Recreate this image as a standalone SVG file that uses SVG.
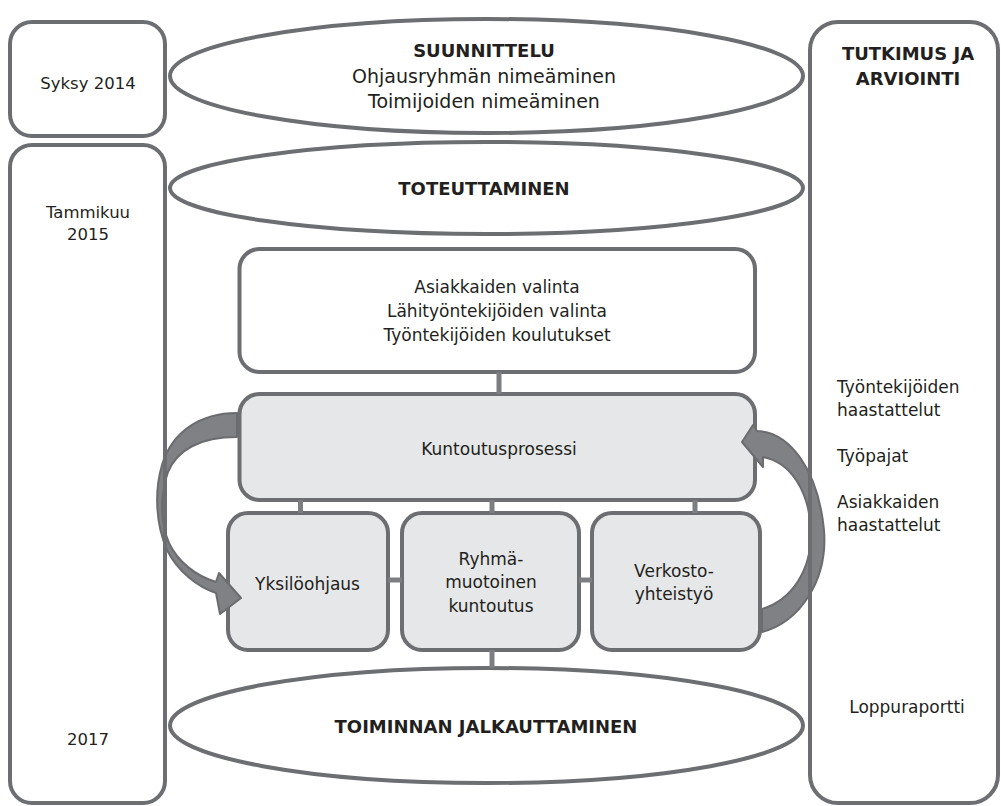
<svg xmlns="http://www.w3.org/2000/svg" width="1001" height="806" viewBox="0 0 1001 806">
<style>
.frame{fill:none;stroke:#6d6e71;stroke-width:4}
.wbox{fill:#ffffff;stroke:#6d6e71;stroke-width:4}
.gbox{fill:#e6e7e8;stroke:#6d6e71;stroke-width:4}
.conn{stroke:#7d7e81;stroke-width:5;fill:none}
.arrow{fill:#808184;stroke:#6b6c6f;stroke-width:2;stroke-linejoin:round}
text{font-family:"DejaVu Sans","Liberation Sans",sans-serif;fill:#231f20;text-anchor:middle}
.t{font-size:17px}
.ts{font-size:16.5px}
.te{font-size:19px}
.b{font-size:18px;font-weight:bold}
.l{text-anchor:start}
</style>
<rect width="1001" height="806" fill="#ffffff"/>

<g id="suunnittelu">
<ellipse class="frame" cx="486.5" cy="76" rx="316.5" ry="57"/>
<text class="b" x="484" y="57">SUUNNITTELU</text>
<text class="te" x="484" y="83">Ohjausryhmän nimeäminen</text>
<text class="te" x="484" y="108">Toimijoiden nimeäminen</text>
</g>

<g id="toteuttaminen">
<ellipse class="frame" cx="486.5" cy="188" rx="316.5" ry="46"/>
<text class="b" x="484" y="195">TOTEUTTAMINEN</text>
</g>

<g id="jalkauttaminen">
<ellipse class="frame" cx="486.5" cy="725.5" rx="316.5" ry="57.5"/>
<text class="b" x="486" y="733">TOIMINNAN JALKAUTTAMINEN</text>
</g>

<g id="valinta">
<rect class="wbox" x="239.5" y="249" width="515.5" height="123" rx="20"/>
<text class="t" x="497" y="293">Asiakkaiden valinta</text>
<text class="t" x="497" y="317">Lähityöntekijöiden valinta</text>
<text class="t" x="497" y="341">Työntekijöiden koulutukset</text>
</g>

<g id="kuntoutusprosessi">
<rect class="gbox" x="239.5" y="394" width="515.5" height="106" rx="20"/>
<text class="t" x="499" y="455">Kuntoutusprosessi</text>
</g>

<g id="yksiloohjaus">
<rect class="gbox" x="228" y="513" width="160" height="137" rx="20"/>
<text class="t" x="307.5" y="590">Yksilöohjaus</text>
</g>

<g id="ryhma">
<rect class="gbox" x="402" y="513" width="177" height="137" rx="20"/>
<text class="t" x="491" y="565">Ryhmä-</text>
<text class="t" x="491" y="588">muotoinen</text>
<text class="t" x="491" y="612">kuntoutus</text>
</g>

<g id="verkosto">
<rect class="gbox" x="592" y="513" width="168" height="137" rx="20"/>
<text class="t" x="674" y="577">Verkosto-</text>
<text class="t" x="674" y="600">yhteistyö</text>
</g>

<g id="connectors">
<line class="conn" x1="499" y1="372" x2="499" y2="394"/>
<line class="conn" x1="300.5" y1="500" x2="300.5" y2="513"/>
<line class="conn" x1="492" y1="500" x2="492" y2="513"/>
<line class="conn" x1="695" y1="500" x2="695" y2="513"/>
<line class="conn" x1="388" y1="580" x2="402" y2="580"/>
<line class="conn" x1="579" y1="580" x2="592" y2="580"/>
<line class="conn" x1="492" y1="650" x2="492" y2="668"/>
<path class="arrow" d="M237,413 C200,413 172,432 162,465 C154,492 156,525 167,550 C178,572 198,587 216,593 L220,614 L241,598 L219,573 L216,582 C196,576 178,562 169,543 C160,522 160,495 168,472 C177,450 200,437 237,437 Z"/>
<path class="arrow" d="M742,442 L753,425 L757,431 C790,432 818,470 824,530 C828,580 800,622 762,632 L762,609 C792,600 812,570 811,530 C809,490 790,462 763,457 L763,467 Z"/>
</g>

<g id="syksy">
<rect class="frame" x="10" y="22" width="155" height="114" rx="22"/>
<text class="ts" x="88" y="89">Syksy 2014</text>
</g>

<g id="aikajana">
<rect class="frame" x="10" y="145" width="155" height="658" rx="22"/>
<text class="ts" x="88" y="218">Tammikuu</text>
<text class="ts" x="88" y="240">2015</text>
<text class="ts" x="88" y="745">2017</text>
</g>

<g id="tutkimus">
<rect class="frame" x="810" y="22" width="188" height="781" rx="28"/>
<text class="b" x="908" y="60">TUTKIMUS JA</text>
<text class="b" x="908" y="85">ARVIOINTI</text>
<text class="t l" x="837" y="393">Työntekijöiden</text>
<text class="t l" x="837" y="416">haastattelut</text>
<text class="t l" x="837" y="462">Työpajat</text>
<text class="t l" x="837" y="508">Asiakkaiden</text>
<text class="t l" x="837" y="531">haastattelut</text>
<text class="t" x="907" y="713">Loppuraportti</text>
</g>
</svg>
